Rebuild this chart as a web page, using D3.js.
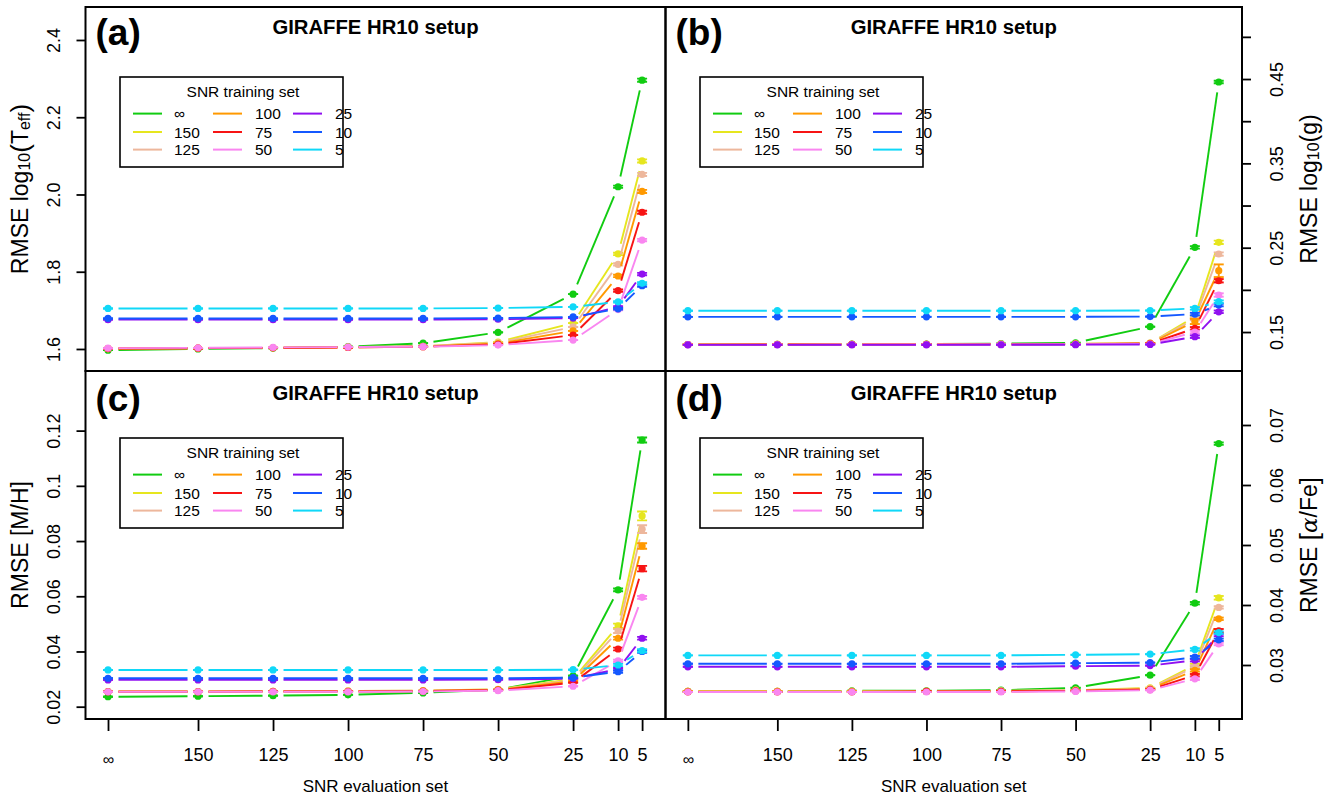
<!DOCTYPE html>
<html>
<head>
<meta charset="utf-8">
<script src="https://cdn.jsdelivr.net/npm/d3@7"></script>
<style>
  body { margin: 0; background: #fff; }
  svg { display: block; }
  text { font-family: "Liberation Sans", Arial, Helvetica, sans-serif; fill: #000; }
</style>
</head>
<body>
<svg id="chart" width="1336" height="798"></svg>
<script>
// SNR of the evaluation set (x axis) and of the training set (one series each)
const snrEval = ["∞", "150", "125", "100", "75", "50", "25", "10", "5"];
const snrTrain = ["∞", "150", "125", "100", "75", "50", "25", "10", "5"];
const seriesColors = ["#11cc11", "#e6e61e", "#edb79c", "#ff9900", "#f71414",
                      "#f986f0", "#9010f0", "#1458ff", "#10d8f8"];

// RMSE of log10(Teff): one row per training SNR, one column per evaluation SNR
const rmseTeff = [
  [1.597, 1.600, 1.602, 1.606, 1.615, 1.643, 1.742, 2.020, 2.296],
  [1.601, 1.602, 1.603, 1.605, 1.607, 1.618, 1.667, 1.846, 2.087],
  [1.601, 1.602, 1.603, 1.605, 1.607, 1.616, 1.657, 1.819, 2.052],
  [1.601, 1.602, 1.603, 1.604, 1.606, 1.614, 1.647, 1.789, 2.008],
  [1.601, 1.602, 1.603, 1.604, 1.606, 1.612, 1.636, 1.751, 1.954],
  [1.602, 1.603, 1.604, 1.605, 1.606, 1.610, 1.623, 1.702, 1.882],
  [1.676, 1.676, 1.676, 1.676, 1.676, 1.677, 1.680, 1.709, 1.794],
  [1.679, 1.679, 1.679, 1.679, 1.679, 1.680, 1.683, 1.704, 1.764],
  [1.705, 1.705, 1.705, 1.705, 1.705, 1.706, 1.709, 1.722, 1.770]
];
// RMSE of log10(g)
const rmseLogg = [
  [0.1352, 0.1354, 0.1356, 0.1358, 0.1362, 0.1373, 0.1563, 0.2504, 0.4465],
  [0.1352, 0.1353, 0.1354, 0.1355, 0.1357, 0.1360, 0.1370, 0.1680, 0.2564],
  [0.1352, 0.1353, 0.1354, 0.1355, 0.1356, 0.1359, 0.1368, 0.1655, 0.2425],
  [0.1352, 0.1353, 0.1354, 0.1354, 0.1355, 0.1358, 0.1366, 0.1625, 0.2227],
  [0.1351, 0.1352, 0.1353, 0.1353, 0.1354, 0.1356, 0.1362, 0.1544, 0.2108],
  [0.1350, 0.1351, 0.1352, 0.1352, 0.1353, 0.1355, 0.1358, 0.1500, 0.1939],
  [0.1348, 0.1348, 0.1348, 0.1348, 0.1349, 0.1350, 0.1352, 0.1445, 0.1740],
  [0.1680, 0.1680, 0.1680, 0.1680, 0.1680, 0.1680, 0.1683, 0.1713, 0.1820],
  [0.1753, 0.1753, 0.1753, 0.1753, 0.1753, 0.1753, 0.1755, 0.1780, 0.1860]
];
// RMSE of [M/H]
const rmseMH = [
  [0.0236, 0.0238, 0.0240, 0.0243, 0.0250, 0.0262, 0.0312, 0.0623, 0.1166],
  [0.0255, 0.0255, 0.0256, 0.0257, 0.0258, 0.0263, 0.0300, 0.0493, 0.0891],
  [0.0255, 0.0255, 0.0256, 0.0257, 0.0258, 0.0262, 0.0296, 0.0474, 0.0843],
  [0.0255, 0.0255, 0.0256, 0.0256, 0.0257, 0.0261, 0.0292, 0.0448, 0.0782],
  [0.0254, 0.0254, 0.0255, 0.0255, 0.0256, 0.0260, 0.0287, 0.0409, 0.0700],
  [0.0254, 0.0254, 0.0254, 0.0254, 0.0255, 0.0258, 0.0274, 0.0366, 0.0596],
  [0.0297, 0.0297, 0.0297, 0.0297, 0.0297, 0.0298, 0.0302, 0.0336, 0.0448],
  [0.0303, 0.0303, 0.0303, 0.0303, 0.0303, 0.0303, 0.0305, 0.0327, 0.0400],
  [0.0333, 0.0333, 0.0333, 0.0333, 0.0333, 0.0333, 0.0334, 0.0351, 0.0403]
];
// RMSE of [alpha/Fe]
const rmseAFe = [
  [0.0256, 0.0256, 0.0257, 0.0257, 0.0258, 0.0262, 0.0283, 0.0403, 0.0669],
  [0.0256, 0.0256, 0.0256, 0.0256, 0.0257, 0.0258, 0.0262, 0.0300, 0.0412],
  [0.0256, 0.0256, 0.0256, 0.0256, 0.0257, 0.0258, 0.0261, 0.0297, 0.0396],
  [0.0256, 0.0256, 0.0256, 0.0256, 0.0256, 0.0257, 0.0260, 0.0291, 0.0377],
  [0.0255, 0.0255, 0.0255, 0.0256, 0.0256, 0.0257, 0.0259, 0.0283, 0.0357],
  [0.0255, 0.0255, 0.0255, 0.0255, 0.0255, 0.0256, 0.0258, 0.0277, 0.0335],
  [0.0297, 0.0297, 0.0297, 0.0297, 0.0297, 0.0298, 0.0299, 0.0308, 0.0350],
  [0.0302, 0.0302, 0.0302, 0.0302, 0.0302, 0.0303, 0.0304, 0.0313, 0.0342],
  [0.0316, 0.0316, 0.0316, 0.0316, 0.0316, 0.0317, 0.0318, 0.0326, 0.0354]
];

// Uncertainties at the two lowest evaluation SNRs (10 and 5), per training SNR
const errTeff10 = [0.003, 0.003, 0.003, 0.003, 0.003, 0.002, 0.002, 0.002, 0.002];
const errTeff5  = [0.004, 0.004, 0.004, 0.004, 0.004, 0.003, 0.003, 0.003, 0.003];
const errLogg10 = [0.0015, 0.0015, 0.0015, 0.003, 0.0015, 0.0015, 0.0015, 0.0015, 0.0015];
const errLogg5  = [0.0015, 0.002, 0.002, 0.0075, 0.002, 0.002, 0.0015, 0.0015, 0.0015];
const errMH10   = [0.0005, 0.0008, 0.0007, 0.0005, 0.0005, 0.0004, 0.0004, 0.0004, 0.0004];
const errMH5    = [0.0009, 0.0016, 0.0014, 0.0010, 0.0010, 0.0005, 0.0005, 0.0005, 0.0005];
const errAFe10  = [0.0002, 0.0002, 0.0002, 0.0002, 0.0002, 0.0002, 0.0002, 0.0002, 0.0002];
const errAFe5   = [0.0002, 0.0003, 0.0002, 0.0002, 0.0003, 0.0002, 0.0002, 0.0002, 0.0002];

// Axis ticks and which of them carry a label
const ticksTeff = [1.6, 1.8, 2.0, 2.2, 2.4];
const labelsTeff = ["1.6", "1.8", "2.0", "2.2", "2.4"];
const ticksLogg = [0.15, 0.2, 0.25, 0.3, 0.35, 0.4, 0.45, 0.5];
const labelsLogg = ["0.15", "", "0.25", "", "0.35", "", "0.45", ""];
const ticksMH = [0.02, 0.04, 0.06, 0.08, 0.1, 0.12];
const labelsMH = ["0.02", "0.04", "0.06", "0.08", "0.1", "0.12"];
const ticksAFe = [0.03, 0.04, 0.05, 0.06, 0.07];
const labelsAFe = ["0.03", "0.04", "0.05", "0.06", "0.07"];

const panelTitle = "GIRAFFE HR10 setup";
const legendTitle = "SNR training set";
const xTitle = "SNR evaluation set";

// ---------------------------------------------------------------------------
const svg = d3.select("#chart");
const FONT = '"Liberation Sans", Arial, Helvetica, sans-serif';

// Where each evaluation SNR sits along the x axis: infinity is placed at 180
// and SNR 5 is nudged to 2 so it does not crowd SNR 10.
function xPosition(label) {
  if (label === "∞") return 180;
  if (label === "5") return 2;
  return +label;
}

const panels = [
  { tag: "(a)", values: rmseTeff, err10: errTeff10, err5: errTeff5,
    ticks: ticksTeff, labels: labelsTeff, side: "left", bottom: false,
    x0: 85.5, x1: 665.5, y0: 7, y1: 371, domain: [1.543, 2.4854],
    yTitle: "teff" },
  { tag: "(b)", values: rmseLogg, err10: errLogg10, err5: errLogg5,
    ticks: ticksLogg, labels: labelsLogg, side: "right", bottom: false,
    x0: 665.5, x1: 1242, y0: 7, y1: 371, domain: [0.1038, 0.5354],
    yTitle: "logg" },
  { tag: "(c)", values: rmseMH, err10: errMH10, err5: errMH5,
    ticks: ticksMH, labels: labelsMH, side: "left", bottom: true,
    x0: 85.5, x1: 665.5, y0: 371, y1: 719, domain: [0.01554, 0.1416],
    yTitle: "mh" },
  { tag: "(d)", values: rmseAFe, err10: errAFe10, err5: errAFe5,
    ticks: ticksAFe, labels: labelsAFe, side: "right", bottom: true,
    x0: 665.5, x1: 1242, y0: 371, y1: 719, domain: [0.021, 0.079],
    yTitle: "afe" }
];

const GAP = 10.5;      // gap left between a line and its point markers
const CAP = 5;         // half width of the error bar caps

function yTitleText(sel, kind) {
  const t = sel.append("text")
    .attr("text-anchor", "middle")
    .attr("dominant-baseline", "central")
    .style("font-size", "23px");
  const sub = s => t.append("tspan").attr("baseline-shift", "-25%")
    .style("font-size", "16px").text(s);
  if (kind === "teff") {
    t.append("tspan").text("RMSE log");
    sub("10");
    t.append("tspan").style("font-size", "26px").text("(");
    t.append("tspan").text("T");
    sub("eff");
    t.append("tspan").style("font-size", "26px").text(")");
  } else if (kind === "logg") {
    t.append("tspan").text("RMSE log");
    sub("10");
    t.append("tspan").text("(g)");
  } else if (kind === "mh") {
    t.append("tspan").text("RMSE [M/H]");
  } else {
    t.append("tspan").text("RMSE ");
    t.append("tspan").style("font-size", "26px").text("[");
    t.append("tspan").style("font-family", '"DejaVu Serif", serif').style("font-style", "italic").text("α");
    t.append("tspan").text("/Fe");
    t.append("tspan").style("font-size", "26px").text("]");
  }
}

panels.forEach(p => {
  const g = svg.append("g");
  const x = d3.scaleLinear().domain([187.5, -5.8]).range([p.x0, p.x1]);
  const y = d3.scaleLinear().domain(p.domain).range([p.y1, p.y0]);

  // clip region for the plotting area
  const clipId = "clip" + p.tag.replace(/[()]/g, "");
  svg.append("clipPath").attr("id", clipId)
    .append("rect").attr("x", p.x0).attr("y", p.y0)
    .attr("width", p.x1 - p.x0).attr("height", p.y1 - p.y0);
  const plot = g.append("g").attr("clip-path", `url(#${clipId})`);

  // series: lines with gaps at the points, error bars, then markers
  p.values.forEach((row, si) => {
    const col = seriesColors[si];
    const pts = row.map((v, ei) => {
      let e = 0;
      if (snrEval[ei] === "10") e = p.err10[si];
      if (snrEval[ei] === "5") e = p.err5[si];
      return { px: x(xPosition(snrEval[ei])), py: y(v), v, e };
    });
    const sg = plot.append("g");
    for (let i = 0; i < pts.length - 1; i++) {
      const a = pts[i], b = pts[i + 1];
      const dx = b.px - a.px, dy = b.py - a.py;
      const len = Math.hypot(dx, dy);
      if (len <= 2 * GAP) continue;
      const ux = dx / len, uy = dy / len;
      sg.append("line")
        .attr("x1", a.px + ux * GAP).attr("y1", a.py + uy * GAP)
        .attr("x2", b.px - ux * GAP).attr("y2", b.py - uy * GAP)
        .attr("stroke", col).attr("stroke-width", 1.9);
    }
    pts.forEach(d => {
      const top = y(d.v + d.e), bot = y(d.v - d.e);
      sg.append("line").attr("x1", d.px).attr("x2", d.px)
        .attr("y1", top).attr("y2", bot)
        .attr("stroke", col).attr("stroke-width", 1.9);
      [top, bot].forEach(yy => {
        sg.append("line").attr("x1", d.px - CAP).attr("x2", d.px + CAP)
          .attr("y1", yy).attr("y2", yy)
          .attr("stroke", col).attr("stroke-width", 1.9);
      });
      sg.append("circle").attr("cx", d.px).attr("cy", d.py).attr("r", 3.6)
        .attr("fill", col);
    });
  });

  // frame
  g.append("rect").attr("x", p.x0).attr("y", p.y0)
    .attr("width", p.x1 - p.x0).attr("height", p.y1 - p.y0)
    .attr("fill", "none").attr("stroke", "#000").attr("stroke-width", 2);

  // y axis
  const labelOf = v => p.labels[p.ticks.indexOf(v)];
  const yAxis = (p.side === "left" ? d3.axisLeft(y) : d3.axisRight(y))
    .tickValues(p.ticks).tickSize(9).tickFormat(labelOf);
  const ya = g.append("g")
    .attr("transform", `translate(${p.side === "left" ? p.x0 : p.x1},0)`)
    .call(yAxis);
  ya.select(".domain").remove();
  ya.selectAll(".tick line").attr("stroke", "#000").attr("stroke-width", 1.8);
  ya.selectAll(".tick text")
    .attr("x", null).attr("dy", null).attr("y", null)
    .attr("text-anchor", "middle")
    .attr("dominant-baseline", "central")
    .attr("transform", `translate(${p.side === "left" ? -32 : 35},0) rotate(-90)`)
    .style("font-family", FONT).style("font-size", "18px").attr("fill", "#000");

  // y axis title
  const ty = g.append("g")
    .attr("transform", `translate(${p.side === "left" ? 20 : 1309},${(p.y0 + p.y1) / 2}) rotate(-90)`);
  yTitleText(ty, p.yTitle);

  // x axis on the lower panels
  if (p.bottom) {
    const xAxis = d3.axisBottom(x)
      .tickValues(snrEval.map(xPosition))
      .tickSize(12)
      .tickFormat((v, i) => snrEval[i]);
    const xa = g.append("g").attr("transform", `translate(0,${p.y1})`).call(xAxis);
    xa.select(".domain").remove();
    xa.selectAll(".tick line").attr("stroke", "#000").attr("stroke-width", 1.8);
    xa.selectAll(".tick text")
      .attr("y", (v, i) => snrEval[i] === "∞" ? 40 : 36).attr("dy", null)
      .attr("dominant-baseline", "central")
      .style("font-family", FONT)
      .style("font-size", (v, i) => snrEval[i] === "∞" ? "16px" : "18px")
      .attr("fill", "#000");
    g.append("text")
      .attr("x", (p.x0 + p.x1) / 2).attr("y", 786)
      .attr("text-anchor", "middle").attr("dominant-baseline", "central")
      .style("font-size", "17px").text(xTitle);
  }

  // panel tag and title
  const top = p.y0;
  g.append("text").attr("x", p.x0 + 10).attr("y", top + (p.bottom ? 27 : 25))
    .attr("dominant-baseline", "central")
    .style("font-size", "37px").style("font-weight", "bold").text(p.tag);
  g.append("text").attr("x", (p.x0 + p.x1) / 2).attr("y", top + (p.bottom ? 22 : 20))
    .attr("text-anchor", "middle").attr("dominant-baseline", "central")
    .style("font-size", "20.3px").style("font-weight", "bold").text(panelTitle);

  // legend
  const lx = p.x0 + 34.5, ly = top + (p.bottom ? 67 : 70);
  const lg = g.append("g").attr("transform", `translate(${lx},${ly})`);
  lg.append("rect").attr("width", 223).attr("height", 90)
    .attr("fill", "#fff").attr("stroke", "#000").attr("stroke-width", 1.6);
  lg.append("text").attr("x", 123).attr("y", 14)
    .attr("text-anchor", "middle").attr("dominant-baseline", "central")
    .style("font-size", "15.5px").text(legendTitle);
  const rowsY = [36.6, 55, 72.6];
  const colLine = [13, 93, 173];
  const colText = [54, 135, 215];
  snrTrain.forEach((s, i) => {
    const c = Math.floor(i / 3), r = i % 3;
    lg.append("line").attr("x1", colLine[c]).attr("x2", colLine[c] + 29)
      .attr("y1", rowsY[r]).attr("y2", rowsY[r])
      .attr("stroke", seriesColors[i]).attr("stroke-width", 2);
    lg.append("text").attr("x", colText[c]).attr("y", rowsY[r])
      .attr("dominant-baseline", "central")
      .style("font-size", "15.5px").text(s);
  });
});
</script>
</body>
</html>
